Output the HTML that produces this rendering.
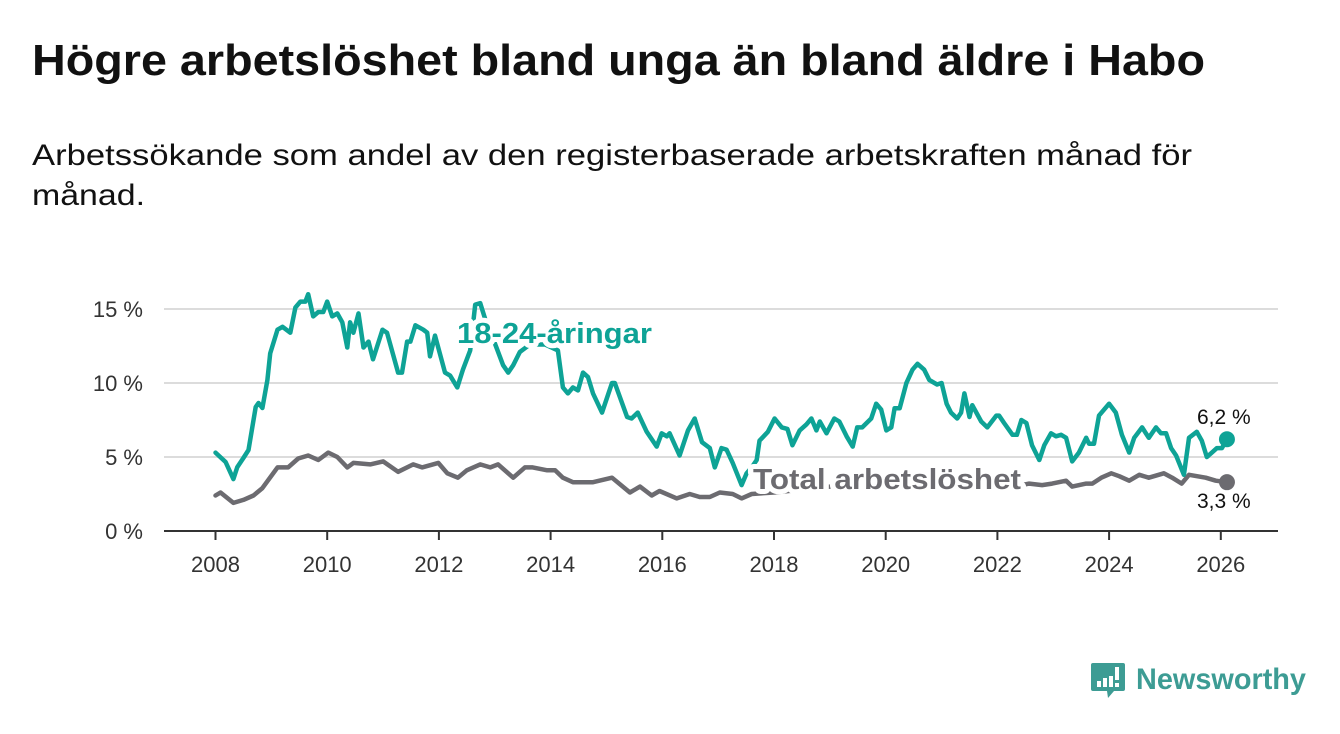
<!DOCTYPE html>
<html><head><meta charset="utf-8"><style>
html,body{margin:0;padding:0;background:#fff;}
svg{display:block;font-family:"Liberation Sans","DejaVu Sans",sans-serif;}
</style></head><body>
<svg id="chart" width="1340" height="734" viewBox="0 0 1340 734" xmlns="http://www.w3.org/2000/svg">
<text x="32" y="75" font-size="44" font-weight="bold" fill="#111" textLength="1173" lengthAdjust="spacingAndGlyphs">Högre arbetslöshet bland unga än bland äldre i Habo</text>
<text x="32" y="165" font-size="30" fill="#111" textLength="1160" lengthAdjust="spacingAndGlyphs">Arbetssökande som andel av den registerbaserade arbetskraften månad för</text>
<text x="32" y="205" font-size="30" fill="#111" textLength="113" lengthAdjust="spacingAndGlyphs">månad.</text>
<g id="grid"></g>
<g id="series"></g>
<g id="labels"></g>
<g>
<path d="M1093 663 h30 a2 2 0 0 1 2 2 v24 a2 2 0 0 1 -2 2 h-9 l-6 7 l-1 -7 h-14 a2 2 0 0 1 -2 -2 v-24 a2 2 0 0 1 2 -2z" fill="#3d9c94"/>
<rect x="1097" y="681" width="4" height="6" fill="#fff"/><rect x="1103" y="678" width="4" height="9" fill="#fff"/><rect x="1109" y="676" width="4" height="11" fill="#fff"/><rect x="1115" y="667" width="4" height="13" fill="#fff"/><rect x="1115" y="683" width="4" height="4" fill="#fff"/>
<text x="1136" y="689" font-size="30" font-weight="bold" fill="#3d9c94" textLength="170" lengthAdjust="spacingAndGlyphs">Newsworthy</text>
</g>
</svg>
<script>
const yTicks = [0, 5, 10, 15];
const yTickLabels = ["0 %", "5 %", "10 %", "15 %"];
const xTicks = [2008, 2010, 2012, 2014, 2016, 2018, 2020, 2022, 2024, 2026];
const youthDates = [2008.00,2008.18,2008.32,2008.39,2008.50,2008.59,2008.72,2008.77,2008.84,2008.93,2008.98,2009.11,2009.20,2009.34,2009.43,2009.52,2009.61,2009.66,2009.75,2009.84,2009.93,2010.00,2010.09,2010.18,2010.27,2010.36,2010.41,2010.47,2010.56,2010.65,2010.74,2010.82,2010.99,2011.07,2011.27,2011.34,2011.43,2011.49,2011.58,2011.72,2011.79,2011.84,2011.93,2012.11,2012.20,2012.33,2012.43,2012.56,2012.65,2012.74,2012.83,2013.01,2013.15,2013.24,2013.33,2013.45,2013.63,2013.90,2014.13,2014.22,2014.31,2014.40,2014.49,2014.58,2014.67,2014.76,2014.92,2015.10,2015.15,2015.37,2015.45,2015.56,2015.72,2015.90,2015.99,2016.08,2016.13,2016.31,2016.46,2016.58,2016.71,2016.85,2016.94,2017.06,2017.15,2017.26,2017.42,2017.51,2017.60,2017.69,2017.74,2017.89,2018.01,2018.14,2018.24,2018.33,2018.46,2018.58,2018.67,2018.76,2018.82,2018.94,2019.08,2019.17,2019.30,2019.41,2019.49,2019.58,2019.74,2019.83,2019.92,2020.01,2020.10,2020.16,2020.25,2020.37,2020.48,2020.57,2020.69,2020.78,2020.92,2021.00,2021.09,2021.17,2021.28,2021.35,2021.41,2021.50,2021.55,2021.71,2021.82,2021.98,2022.03,2022.12,2022.27,2022.35,2022.43,2022.52,2022.62,2022.75,2022.84,2022.96,2023.05,2023.14,2023.23,2023.34,2023.46,2023.59,2023.64,2023.73,2023.82,2024.00,2024.12,2024.23,2024.36,2024.45,2024.59,2024.71,2024.84,2024.93,2025.02,2025.11,2025.20,2025.34,2025.43,2025.57,2025.66,2025.75,2025.84,2025.93,2026.02,2026.11];
const youthValues = [5.3,4.66,3.51,4.32,4.93,5.47,8.38,8.65,8.31,10.2,12.0,13.6,13.8,13.4,15.1,15.5,15.5,16.0,14.5,14.8,14.8,15.5,14.5,14.7,14.1,12.4,14.1,13.4,14.7,12.4,12.8,11.6,13.6,13.4,10.7,10.7,12.8,12.8,13.9,13.6,13.4,11.8,13.2,10.7,10.5,9.7,10.9,12.2,15.3,15.4,14.3,12.6,11.2,10.7,11.2,12.1,12.6,12.6,12.2,9.7,9.3,9.7,9.5,10.7,10.4,9.3,8.0,10.0,10.0,7.7,7.6,8.0,6.7,5.7,6.6,6.4,6.6,5.1,6.8,7.6,6.0,5.6,4.3,5.6,5.5,4.6,3.1,3.9,4.3,4.8,6.1,6.7,7.6,7.0,6.9,5.8,6.8,7.2,7.6,6.8,7.4,6.6,7.6,7.4,6.4,5.7,7.0,7.0,7.6,8.6,8.2,6.8,7.0,8.3,8.3,10.0,10.9,11.3,10.9,10.2,9.9,10.0,8.6,8.0,7.6,8.0,9.3,7.7,8.5,7.4,7.0,7.8,7.8,7.3,6.5,6.5,7.5,7.3,5.8,4.8,5.8,6.6,6.4,6.5,6.3,4.7,5.3,6.3,5.9,5.9,7.8,8.6,8.0,6.5,5.3,6.3,7.0,6.3,7.0,6.6,6.6,5.6,5.1,3.8,6.3,6.7,6.1,5.0,5.3,5.6,5.6,6.2];
const totalDates = [2008.00,2008.09,2008.32,2008.50,2008.68,2008.84,2009.11,2009.30,2009.48,2009.66,2009.84,2010.02,2010.18,2010.36,2010.47,2010.77,2011.00,2011.27,2011.54,2011.70,2011.99,2012.15,2012.34,2012.50,2012.74,2012.92,2013.06,2013.33,2013.54,2013.68,2013.94,2014.08,2014.22,2014.40,2014.76,2015.10,2015.42,2015.60,2015.81,2015.95,2016.26,2016.49,2016.67,2016.85,2017.03,2017.26,2017.42,2017.60,2018.00,2018.50,2019.00,2019.50,2020.00,2020.30,2020.60,2021.00,2021.50,2022.00,2022.30,2022.57,2022.80,2022.98,2023.23,2023.34,2023.59,2023.70,2023.86,2024.04,2024.18,2024.36,2024.54,2024.71,2024.98,2025.13,2025.30,2025.43,2025.73,2025.91,2026.11];
const totalValues = [2.4,2.6,1.9,2.1,2.4,2.9,4.3,4.3,4.9,5.1,4.8,5.3,5.0,4.3,4.6,4.5,4.7,4.0,4.5,4.3,4.6,3.9,3.6,4.1,4.5,4.3,4.5,3.6,4.3,4.3,4.1,4.1,3.6,3.3,3.3,3.6,2.6,3.0,2.4,2.7,2.2,2.5,2.3,2.3,2.6,2.5,2.2,2.5,2.6,2.8,3.0,3.2,3.4,3.6,3.6,3.5,3.3,3.1,3.0,3.2,3.1,3.2,3.4,3.0,3.2,3.2,3.6,3.9,3.7,3.4,3.8,3.6,3.9,3.6,3.2,3.8,3.6,3.4,3.3];

const NS = "http://www.w3.org/2000/svg";
const X0 = 164, X1 = 1278, Y0 = 531;
function xs(y){ return 215.5 + (y - 2008) * 55.85; }
function ys(v){ return Y0 - v * 14.8; }
function mk(tag, attrs, parent){ const e = document.createElementNS(NS, tag); for (const k in attrs) e.setAttribute(k, attrs[k]); parent.appendChild(e); return e; }

const grid = document.getElementById('grid');
yTicks.forEach((t, i) => {
  if (t > 0) {
    const l = mk('line', {x1: X0, x2: X1, y1: ys(t), y2: ys(t), stroke: '#dcdcdc', 'stroke-width': 2}, grid);
    
    
  }
  const tx = mk('text', {x: 143, y: ys(t) + 8, 'text-anchor': 'end', 'font-size': 22, fill: '#333'}, grid);
  
  
  tx.textContent = yTickLabels[i];
});
const ax = mk('line', {x1: X0, x2: X1, y1: Y0, y2: Y0, stroke: '#333', 'stroke-width': 2}, grid);


xTicks.forEach(t => {
  const tk = mk('line', {x1: xs(t), x2: xs(t), y1: Y0, y2: Y0 + 9, stroke: '#333', 'stroke-width': 2}, grid);
  
  
  const tx = mk('text', {x: xs(t), y: 572, 'text-anchor': 'middle', 'font-size': 22, fill: '#333'}, grid);
  
  
  tx.textContent = t;
});

const series = document.getElementById('series');
function line(dates, vals, color, name){
  const d = dates.map((t, i) => (i ? 'L' : 'M') + xs(t).toFixed(1) + ' ' + ys(vals[i]).toFixed(1)).join(' ');
  const p = mk('path', {d: d, fill: 'none', stroke: color, 'stroke-width': 4.5, 'stroke-linejoin': 'round', 'stroke-linecap': 'round'}, series);
  
  
  const n = dates.length - 1;
  const c = mk('circle', {cx: xs(dates[n]), cy: ys(vals[n]), r: 8, fill: color}, series);
  
  
}
line(totalDates, totalValues, '#6c6b70', 'total');
line(youthDates, youthValues, '#0ea396', 'youth');

const labels = document.getElementById('labels');
function lab(x, y, txt, size, weight, color, name, halo){
  const t = mk('text', {x: x, y: y, 'font-size': size, 'font-weight': weight, fill: color}, labels);
  if (halo) { t.setAttribute('stroke', '#fff'); t.setAttribute('stroke-width', 10); t.setAttribute('paint-order', 'stroke'); t.setAttribute('stroke-linejoin', 'round'); }
  
  
  t.textContent = txt;
  return t;
}
const l1 = lab(457, 343, '18-24-åringar', 29, 'bold', '#0ea396', 'youth-series-label', true);
l1.setAttribute('textLength', 195); l1.setAttribute('lengthAdjust', 'spacingAndGlyphs');
const l2 = lab(753, 489, 'Total arbetslöshet', 29, 'bold', '#6c6b70', 'total-series-label', true);
l2.setAttribute('textLength', 268); l2.setAttribute('lengthAdjust', 'spacingAndGlyphs');
const yl = youthValues[youthValues.length - 1], tl = totalValues[totalValues.length - 1];
lab(1197, 424, yl.toFixed(1).replace('.', ',') + ' %', 21, 'normal', '#111', 'youth-end-value', false);
lab(1197, 508, tl.toFixed(1).replace('.', ',') + ' %', 21, 'normal', '#111', 'total-end-value', false);
</script>
</body></html>
